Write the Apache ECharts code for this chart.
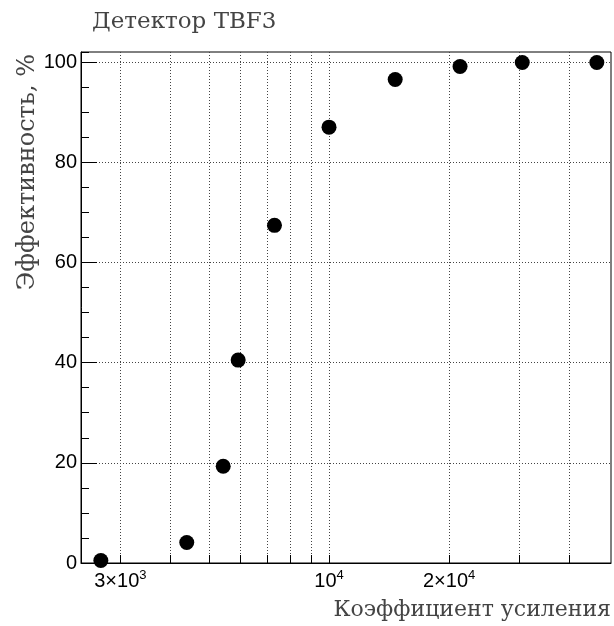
<!DOCTYPE html>
<html>
<head>
<meta charset="utf-8">
<script src="https://cdn.jsdelivr.net/npm/echarts@6/dist/echarts.min.js"></script>
<style>
  html, body { margin: 0; background: #fff; }
  #chart { width: 614px; height: 626px; }
</style>
</head>
<body>
<div id="chart"></div>
<script>
// коэффициент усиления и эффективность, %
const gains = [2680, 4400, 5430, 5920, 7300, 10000, 14650, 21300, 30500, 46900]
const efficiency = [0.5, 4.1, 19.3, 40.5, 67.4, 87.0, 96.5, 99.1, 99.9, 99.9]

// log-axis grid lines and the labelled ones
const gridGains = [3000, 4000, 5000, 6000, 7000, 8000, 9000, 10000, 20000, 30000, 40000]
const labelGains = [3000, 10000, 20000]

const SERIF = '"DejaVu Serif", "Liberation Serif", serif'
const SANS = '"Liberation Sans", Arial, sans-serif'
const dotted = { color: '#444', width: 1, type: [1, 2] }

function gainLabel(v) {
  const exp = Math.floor(Math.log10(v) + 1e-9)
  const mant = Math.round(v / Math.pow(10, exp))
  return mant === 1 ? `{b|10}{s|${exp}}` : `{b|${mant}×10}{s|${exp}}`
}

const chart = echarts.init(document.getElementById('chart'), null, { renderer: 'canvas' })

chart.setOption({
  animation: false,
  backgroundColor: '#fff',
  title: {
    text: 'Детектор TBF3',
    left: 87, top: 6,
    textStyle: { fontFamily: SERIF, fontSize: 23, fontWeight: 'normal', color: '#444' },
  },
  grid: {
    left: 81, right: 3, top: 52, bottom: 63,
    outerBoundsMode: 'none', containLabel: false,
    show: true, borderColor: '#000', borderWidth: 1, backgroundColor: 'transparent',
  },
  xAxis: {
    type: 'log', logBase: 10, min: 2390, max: 50900,
    name: 'Коэффициент усиления',
    nameLocation: 'end', nameGap: 0,
    nameTextStyle: {
      fontFamily: SERIF, fontSize: 22, color: '#444',
      align: 'right', verticalAlign: 'top', padding: [36, 0, 0, 0],
    },
    axisLine: { show: true, lineStyle: { color: '#000', width: 1 } },
    axisTick: { show: true, inside: true, length: 8, customValues: gridGains, lineStyle: { color: '#000' } },
    axisLabel: {
      customValues: labelGains, margin: 6, color: '#000',
      formatter: gainLabel,
      rich: {
        b: { fontFamily: SANS, fontSize: 20, color: '#000', lineHeight: 24 },
        s: { fontFamily: SANS, fontSize: 13, color: '#000', lineHeight: 14, verticalAlign: 'top' },
      },
    },
    splitLine: { show: true, lineStyle: dotted },
  },
  yAxis: [
    {
      type: 'value', min: 0, max: 102, interval: 20, position: 'left',
      name: 'Эффективность, %',
      nameLocation: 'end', nameGap: -2, nameRotate: 90,
      nameTextStyle: {
        fontFamily: SERIF, fontSize: 24, color: '#444',
        align: 'right', verticalAlign: 'bottom', padding: [0, 0, 41, 0],
      },
      axisLine: { show: true, lineStyle: { color: '#000', width: 1 } },
      axisTick: { show: true, inside: true, length: 16, lineStyle: { color: '#000' } },
      axisLabel: { fontFamily: SANS, fontSize: 20, color: '#000', margin: 4, showMaxLabel: false },
      splitLine: { show: true, showMaxLine: false, lineStyle: dotted },
    },
    {
      // minor ticks every 5 %
      type: 'value', min: 0, max: 102, interval: 5, position: 'left',
      axisLine: { show: false },
      axisTick: { show: true, inside: true, length: 8, lineStyle: { color: '#000' } },
      axisLabel: { show: false },
      splitLine: { show: false },
    },
  ],
  series: [{
    type: 'scatter',
    symbol: 'circle', symbolSize: 15,
    itemStyle: { color: '#000', opacity: 1 },
    data: gains.map((g, i) => [g, efficiency[i]]),
  }],
})
</script>
</body>
</html>
